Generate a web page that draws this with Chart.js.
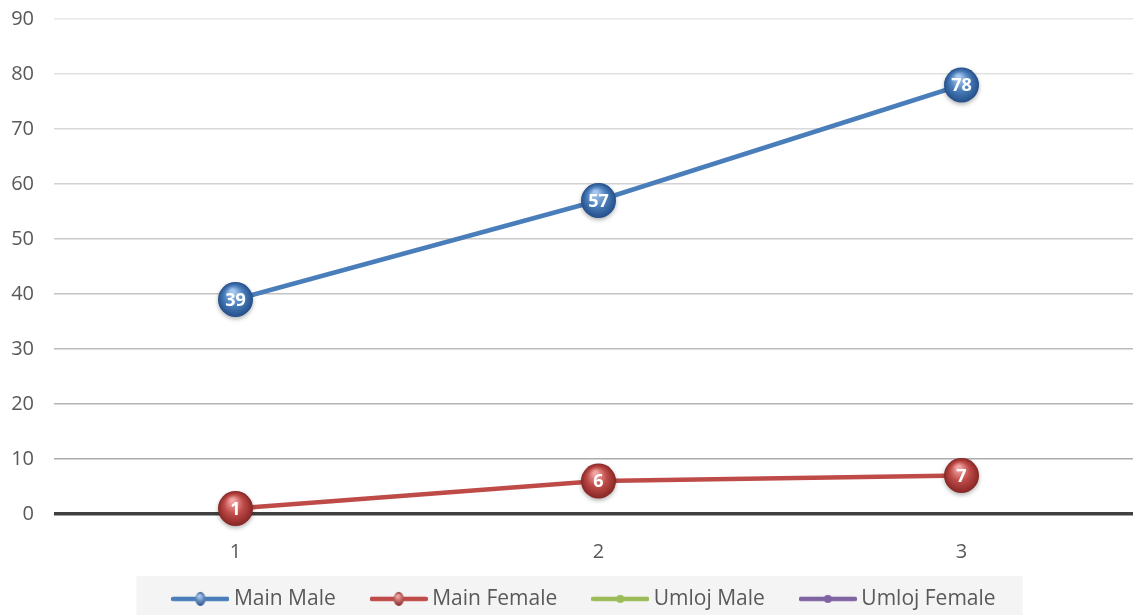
<!DOCTYPE html>
<html>
<head>
<meta charset="utf-8">
<script src="https://cdn.jsdelivr.net/npm/chart.js@4"></script>
<style>
  html, body { margin: 0; padding: 0; background: #ffffff; overflow: hidden; }
  #wrap { width: 1133px; height: 615px; overflow: hidden; }
</style>
</head>
<body>
<div id="wrap"><canvas id="grafico" width="1143" height="615"></canvas></div>
<script>
// datos
const categorias = ["1", "2", "3"];
const mainMale = [39, 57, 78];
const mainFemale = [1, 6, 7];
const umlojMale = [];
const umlojFemale = [];
const yMin = 0, yMax = 90, yPaso = 10;

const colores = {
    mainMale: { line: "#4a7ebb", light: "#a6c6ee", dark: "#234f8a" },
    mainFemale: { line: "#be4b48", light: "#f0a4a1", dark: "#862624" },
    umlojMale: { line: "#9bbb59" },
    umlojFemale: { line: "#8064a2" }
};

// marcador de leyenda: linea con bolita
function marcador(c, esfera) {
    const cv = document.createElement("canvas");
    cv.width = 58; cv.height = 16;
    const g = cv.getContext("2d");
    g.strokeStyle = c.line; g.lineWidth = 4.5; g.lineCap = "round";
    g.beginPath(); g.moveTo(2, 8); g.lineTo(56, 8); g.stroke();
    if (esfera) {
        const gr = g.createRadialGradient(28, 5, 1, 29, 8, 7);
        gr.addColorStop(0, c.light); gr.addColorStop(1, c.dark);
        g.fillStyle = gr;
        g.beginPath(); g.ellipse(29, 8, 5, 7, 0, 0, Math.PI * 2); g.fill();
    } else {
        g.fillStyle = c.line;
        g.beginPath(); g.arc(29, 8, 4, 0, Math.PI * 2); g.fill();
    }
    return cv;
}

// esferas con etiqueta en cada punto
const pluginEsferas = {
    id: "esferas",
    afterDatasetsDraw(chart) {
        const ctx = chart.ctx;
        chart.data.datasets.forEach((ds, i) => {
            if (!ds.esfera) return;
            const meta = chart.getDatasetMeta(i);
            meta.data.forEach((pt, j) => {
                const x = pt.x, y = pt.y, r = 17.5;
                ctx.save();
                ctx.shadowColor = "rgba(0,0,0,0.3)";
                ctx.shadowBlur = 4;
                ctx.shadowOffsetY = 2;
                const gr = ctx.createRadialGradient(x - 3, y - 8, 2, x, y, r);
                gr.addColorStop(0, ds.esfera.light);
                gr.addColorStop(0.5, ds.borderColor);
                gr.addColorStop(1, ds.esfera.dark);
                ctx.fillStyle = gr;
                ctx.beginPath(); ctx.arc(x, y, r, 0, Math.PI * 2); ctx.fill();
                ctx.restore();
                ctx.save();
                ctx.fillStyle = "#ffffff";
                ctx.font = "bold 18px 'Open Sans', sans-serif";
                ctx.textAlign = "center";
                ctx.textBaseline = "middle";
                ctx.fillText(String(ds.data[j]), x, y + 1);
                ctx.restore();
            });
        });
    }
};

// leyenda: posicion fina y fondo gris
const leyendaPadding = 40;
const leyendaFuente = 21;
const leyendaDx = 15;
const leyendaCentroY = 601;
const pluginFondoLeyenda = {
    id: "fondoLeyenda",
    afterLayout(chart) {
        const lg = chart.legend;
        if (!lg) return;
        lg.left += leyendaDx;
        lg.right += leyendaDx;
        lg.top = leyendaCentroY - leyendaPadding - leyendaFuente * 0.6;
        lg.height = lg.bottom - lg.top;
    },
    beforeDraw(chart) {
        const lg = chart.legend;
        if (!lg || !lg.legendHitBoxes || !lg.legendHitBoxes.length) return;
        const hb = lg.legendHitBoxes;
        const x0 = hb[0].left - 41;
        const ultimo = hb[hb.length - 1];
        const x1 = ultimo.left + ultimo.width + 27;
        const ctx = chart.ctx;
        ctx.save();
        ctx.fillStyle = "#f4f4f4";
        ctx.fillRect(x0, 576, x1 - x0, 39);
        ctx.restore();
    }
};

function colorGrid(v) {
    if (v === 0) return "#404040";
    const t = v / yMax; // mas claro arriba
    const c = Math.round(165 + t * 67);
    return `rgb(${c},${c},${c})`;
}

const fuente = "'Open Sans', sans-serif";
const ctx = document.getElementById("grafico").getContext("2d");
new Chart(ctx, {
    type: "line",
    data: {
        labels: categorias,
        datasets: [
            { label: "Main Male", data: mainMale, borderColor: colores.mainMale.line, backgroundColor: colores.mainMale.line,
              borderWidth: 4.5, pointRadius: 0, esfera: colores.mainMale, pointStyle: marcador(colores.mainMale, true) },
            { label: "Main Female", data: mainFemale, borderColor: colores.mainFemale.line, backgroundColor: colores.mainFemale.line,
              borderWidth: 4.5, pointRadius: 0, esfera: colores.mainFemale, pointStyle: marcador(colores.mainFemale, true) },
            { label: "Umloj Male", data: umlojMale, borderColor: colores.umlojMale.line, backgroundColor: colores.umlojMale.line,
              borderWidth: 4.5, pointRadius: 0, pointStyle: marcador(colores.umlojMale, false) },
            { label: "Umloj Female", data: umlojFemale, borderColor: colores.umlojFemale.line, backgroundColor: colores.umlojFemale.line,
              borderWidth: 4.5, pointRadius: 0, pointStyle: marcador(colores.umlojFemale, false) }
        ]
    },
    options: {
        responsive: false,
        animation: false,
        devicePixelRatio: 1,
        layout: { padding: { top: 19, left: 0, right: 0, bottom: 0 } },
        plugins: {
            tooltip: { enabled: false },
            legend: {
                position: "bottom",
                maxHeight: 51,
                labels: {
                    usePointStyle: true,
                    pointStyleWidth: 46,
                    color: "#595959",
                    font: { family: fuente, size: leyendaFuente },
                    padding: leyendaPadding
                }
            }
        },
        scales: {
            x: {
                offset: true,
                grid: { display: false },
                border: { display: false },
                ticks: { color: "#595959", font: { family: fuente, size: 20 }, padding: 18 },
                afterFit: s => { s.height = 50; }
            },
            y: {
                min: yMin,
                max: yMax,
                border: { display: false },
                ticks: { stepSize: yPaso, color: "#595959", font: { family: fuente, size: 20 }, padding: 20 },
                grid: {
                    drawTicks: false,
                    color: c => colorGrid(c.tick.value),
                    lineWidth: c => c.tick.value === 0 ? 3.5 : 1.5
                },
                afterFit: s => { s.width = 54; s.paddingTop = 0; s.paddingBottom = 0; }
            }
        }
    },
    plugins: [pluginFondoLeyenda, pluginEsferas]
});
</script>
</body>
</html>
